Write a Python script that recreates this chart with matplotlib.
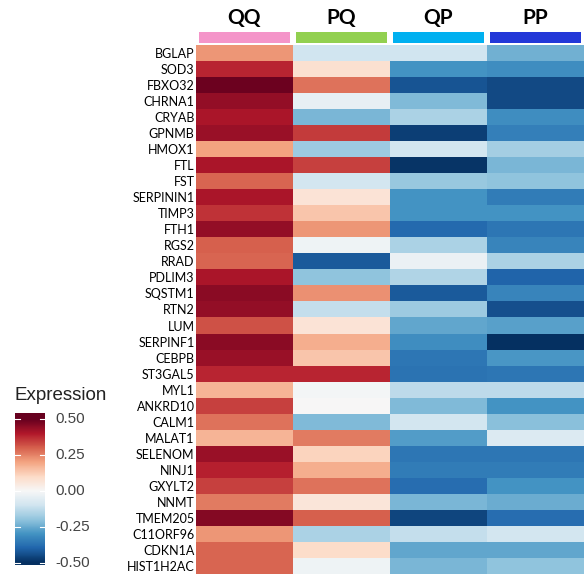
import numpy as np
import matplotlib
matplotlib.use("Agg")
import matplotlib.pyplot as plt
from matplotlib.patches import Rectangle

genes = ["BGLAP", "SOD3", "FBXO32", "CHRNA1", "CRYAB", "GPNMB", "HMOX1", "FTL", "FST",
         "SERPININ1", "TIMP3", "FTH1", "RGS2", "RRAD", "PDLIM3", "SQSTM1", "RTN2", "LUM",
         "SERPINF1", "CEBPB", "ST3GAL5", "MYL1", "ANKRD10", "CALM1", "MALAT1", "SELENOM",
         "NINJ1", "GXYLT2", "NNMT", "TMEM205", "C11ORF96", "CDKN1A", "HIST1H2AC"]
groups = ["QQ", "PQ", "QP", "PP"]
group_colors = ["#F495C9", "#92D050", "#00B0F0", "#2338D8"]

qq = [0.22, 0.38, 0.49, 0.44, 0.41, 0.43, 0.20, 0.41, 0.29, 0.41, 0.36, 0.44, 0.30, 0.29,
      0.41, 0.45, 0.44, 0.32, 0.45, 0.43, 0.38, 0.17, 0.34, 0.27, 0.17, 0.43, 0.39, 0.34,
      0.26, 0.46, 0.22, 0.29, 0.29]
pq = [-0.10, 0.08, 0.27, -0.04, -0.23, 0.35, -0.18, 0.34, -0.09, 0.07, 0.14, 0.22, -0.02,
      -0.42, -0.20, 0.23, -0.12, 0.07, 0.18, 0.14, 0.38, -0.01, 0.00, -0.22, 0.26, 0.11,
      0.18, 0.27, 0.06, 0.30, -0.16, 0.09, -0.02]
qp = [-0.10, -0.30, -0.43, -0.22, -0.16, -0.47, -0.09, -0.49, -0.19, -0.30, -0.30, -0.39,
      -0.16, -0.03, -0.15, -0.42, -0.18, -0.26, -0.31, -0.36, -0.37, -0.13, -0.22, -0.09,
      -0.28, -0.36, -0.35, -0.38, -0.23, -0.46, -0.12, -0.26, -0.23]
pp = [-0.24, -0.31, -0.45, -0.45, -0.31, -0.34, -0.17, -0.23, -0.20, -0.35, -0.30, -0.36,
      -0.33, -0.16, -0.40, -0.33, -0.44, -0.27, -0.50, -0.29, -0.36, -0.13, -0.30, -0.21,
      -0.07, -0.36, -0.35, -0.30, -0.25, -0.38, -0.09, -0.26, -0.20]
legend_ticks = [0.5, 0.25, 0.0, -0.25, -0.5]

W, H = 584, 575
fig = plt.figure(figsize=(W / 100, H / 100), dpi=100)

def box(x0, y0, x1, y1):
    # pixel box -> figure fraction
    return [x0 / W, 1 - y1 / H, (x1 - x0) / W, (y1 - y0) / H]

mat = np.array([qq, pq, qp, pp]).T
ax = fig.add_axes(box(196, 45, 584, 574))
ax.imshow(mat, cmap="RdBu_r", vmin=-0.5, vmax=0.5, aspect="auto", interpolation="nearest")
ax.set_yticks(range(len(genes)))
ax.set_yticklabels(genes, fontsize=9, family="Lato")
ax.set_xticks([])
ax.tick_params(axis="y", length=0, pad=1)
for s in ax.spines.values():
    s.set_visible(False)

# group header bars and titles
hax = fig.add_axes(box(196, 0, 584, 45))
hax.set_xlim(-0.5, 3.5)
hax.set_ylim(45, 0)
hax.axis("off")
for i, (g, c) in enumerate(zip(groups, group_colors)):
    hax.add_patch(Rectangle((i - 0.47, 32), 0.94, 11, color=c, lw=0))
    hax.text(i, 18, g, ha="center", va="center", fontsize=15, fontweight="bold", family="Lato")

# colour legend
lo, hi = -0.515, 0.54
cax = fig.add_axes(box(15, 413, 45, 565))
grad = np.linspace(lo, hi, 256).reshape(-1, 1)
cax.imshow(grad, cmap="RdBu_r", vmin=-0.5, vmax=0.5, aspect="auto", origin="lower",
           extent=[0, 1, lo, hi])
cax.set_xlim(0, 1)
cax.set_ylim(lo, hi)
cax.set_xticks([])
cax.set_yticks([])
for s in cax.spines.values():
    s.set_visible(False)
for t in legend_ticks:
    cax.plot([0, 0.18], [t, t], color="white", lw=0.8)
    cax.plot([0.82, 1], [t, t], color="white", lw=0.8)
    cax.text(1.33, t, f"{t:.2f}", ha="left", va="center", fontsize=11,
             color="#444444", family="Liberation Sans", clip_on=False)
fig.text(15 / W, 1 - 396 / H, "Expression", fontsize=13.5, family="Liberation Sans",
         color="#222222", ha="left", va="center")

fig.savefig("out.png", dpi=100)
